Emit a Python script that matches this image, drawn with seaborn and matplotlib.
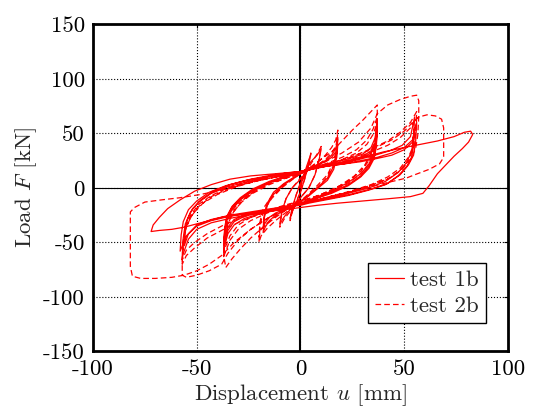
import matplotlib
matplotlib.use("Agg")
import matplotlib.pyplot as plt
import seaborn as sns
import pandas as pd

# ---------------- data ----------------
# test 1b (solid) : successive cycles, (displacement u [mm], load F [kN])
c1_1b = [(0, 0), (1, 8), (3, 20), (5, 31), (4, 22), (2, 8), (0, -4), (-2, -13), (-4, -22), (-5, -28),
         (-4, -18), (-2, -6), (0, 4)]
c2_1b = [(2, 14), (5, 24), (8, 30), (10, 36), (9, 26), (7, 12), (4, 0), (0, -9), (-3, -16), (-6, -22),
         (-8, -27), (-10, -33), (-9, -22), (-7, -10), (-4, 0), (0, 8)]
c3_1b = [(4, 17), (8, 21), (12, 25), (15, 30), (17, 36), (18, 45), (17.5, 32), (16, 20), (13, 9), (8, 0),
         (3, -8), (0, -12), (-4, -17), (-8, -21), (-12, -25), (-15, -30), (-17, -36), (-18, -41),
         (-17.5, -28), (-16, -16), (-13, -6), (-8, 3), (-3, 9), (0, 13)]
c4_1b = [(4, 18), (8, 21), (12, 24), (15, 28), (17, 33), (18, 40), (17.5, 28), (16, 17), (13, 7), (8, -1),
         (3, -9), (0, -13), (-4, -17), (-8, -20), (-12, -23), (-15, -27), (-17, -32), (-18, -37),
         (-17.5, -25), (-16, -14), (-13, -4), (-8, 4), (-3, 10), (0, 14)]
c5_1b = [(4, 18), (10, 21), (17, 24), (24, 27), (30, 31), (34, 37), (36, 46), (37, 62), (36.5, 44),
         (35.5, 32), (33, 22), (29, 13), (23, 5), (15, -3), (7, -9), (0, -14), (-6, -18), (-13, -21),
         (-20, -24), (-27, -28), (-32, -34), (-35, -42), (-37, -57), (-36.5, -42), (-35.5, -30),
         (-33, -20), (-29, -11), (-23, -3), (-15, 5), (-7, 10), (0, 14)]
c6_1b = [(5, 17), (11, 20), (18, 23), (25, 26), (30, 29), (34, 34), (36, 42), (37, 56), (36.5, 40),
         (35.5, 29), (33, 20), (29, 11), (23, 3), (15, -4), (7, -10), (0, -15), (-6, -18), (-13, -20),
         (-20, -23), (-27, -26), (-32, -31), (-35, -39), (-37, -53), (-36.5, -39), (-35.5, -28),
         (-33, -18), (-29, -10), (-23, -2), (-15, 5), (-7, 11), (0, 15)]
c7_1b = [(5, 18), (11, 20), (18, 22), (25, 25), (30, 28), (34, 32), (36, 39), (37, 51), (36.5, 37),
         (35.5, 27), (33, 18), (29, 10), (23, 2), (15, -5), (7, -10), (0, -15), (-6, -17), (-13, -20),
         (-20, -22), (-27, -25), (-32, -29), (-35, -36), (-37, -49), (-36.5, -36), (-35.5, -26),
         (-33, -17), (-29, -9), (-23, -1), (-15, 6), (-7, 11), (0, 15)]
c8_1b = [(5, 17), (12, 20), (20, 23), (28, 26), (36, 30), (43, 34), (49, 39), (53, 47), (55, 65),
         (54.5, 46), (53.5, 33), (51, 23), (47, 14), (41, 6), (33, 0), (23, -5), (12, -10), (4, -13),
         (0, -15), (-6, -18), (-14, -21), (-24, -24), (-34, -28), (-43, -32), (-50, -38), (-54, -47),
         (-57, -63), (-56.5, -46), (-55.5, -33), (-53, -22), (-49, -13), (-43, -5), (-35, 1), (-25, 6),
         (-13, 11), (-5, 13), (0, 15)]
c9_1b = [(6, 18), (13, 20), (21, 22), (29, 25), (37, 28), (44, 32), (50, 37), (54, 44), (56, 60),
         (55.5, 42), (54.5, 30), (52, 21), (48, 12), (42, 4), (34, -1), (24, -6), (13, -10), (4, -13),
         (0, -15), (-6, -17), (-14, -20), (-24, -23), (-34, -26), (-43, -30), (-50, -35), (-55, -44),
         (-58, -58), (-57.5, -43), (-56.5, -31), (-54, -20), (-50, -12), (-44, -4), (-36, 2), (-26, 7),
         (-14, 11), (-5, 13), (0, 15)]
c10_1b = [(6, 18), (13, 20), (21, 22), (29, 24), (37, 27), (44, 30), (50, 35), (54, 42), (55, 55),
          (54.5, 39), (53.5, 28), (51, 19), (47, 11), (41, 3), (33, -2), (23, -7), (12, -11), (4, -14),
          (0, -16), (-6, -17), (-14, -19), (-24, -22), (-34, -25), (-43, -29), (-50, -34), (-54, -42),
          (-56, -53), (-55.5, -40), (-54.5, -29), (-52, -19), (-48, -11), (-42, -3), (-34, 3), (-24, 8),
          (-13, 12), (-5, 14), (0, 15)]
c11_1b = [(8, 18), (18, 22), (30, 28), (40, 33), (50, 37), (58, 40), (66, 43), (74, 47), (79, 51), (82, 52),
          (83, 49), (81, 42), (78, 36), (74, 29), (70, 21), (66, 13), (62, 2), (59, -5), (53, -8),
          (42, -10), (30, -12), (18, -14), (8, -16), (0, -18), (-8, -20), (-18, -22), (-28, -24),
          (-38, -27), (-48, -32), (-56, -36), (-62, -38), (-68, -39), (-72, -40), (-71, -34), (-68, -27),
          (-64, -19), (-58, -11), (-51, -3), (-43, 3), (-34, 8), (-24, 11), (-12, 13), (0, 15)]

# test 2b (dashed)
c1_2b = [(0, 0), (2, 12), (4, 24), (5, 32), (4, 22), (2, 8), (0, -4), (-2, -12), (-4, -22), (-5, -30),
         (-4, -20), (-2, -6), (0, 5)]
c2_2b = [(3, 16), (6, 25), (8, 31), (10, 38), (9, 27), (7, 12), (4, 0), (0, -9), (-3, -17), (-6, -24),
         (-8, -29), (-10, -36), (-9, -24), (-7, -10), (-4, 0), (0, 9)]
c3_2b = [(4, 17), (8, 23), (12, 30), (15, 37), (17, 44), (18, 53), (17.5, 38), (16, 24), (13, 12), (8, 2),
         (3, -7), (0, -12), (-4, -18), (-8, -24), (-12, -30), (-16, -37), (-19, -44), (-20, -50),
         (-19.5, -35), (-18, -22), (-14, -10), (-9, 0), (-3, 9), (0, 13)]
c4_2b = [(4, 17), (8, 21), (12, 26), (15, 32), (17, 38), (18, 47), (17.5, 33), (16, 21), (13, 10), (8, 0),
         (3, -8), (0, -13), (-4, -17), (-8, -21), (-12, -26), (-16, -32), (-19, -38), (-20, -45),
         (-19.5, -31), (-18, -19), (-14, -8), (-9, 1), (-3, 10), (0, 13)]
c5_2b = [(4, 18), (9, 25), (15, 33), (20, 43), (25, 53), (30, 62), (34, 70), (37, 76), (37, 60), (36, 45),
         (34, 32), (31, 21), (26, 11), (19, 2), (10, -6), (0, -13), (-6, -19), (-12, -27), (-18, -36),
         (-24, -46), (-29, -56), (-33, -65), (-36, -73), (-37, -62), (-36.5, -46), (-35, -33),
         (-32, -21), (-27, -10), (-20, 0), (-10, 8), (0, 14)]
c6_2b = [(5, 17), (12, 22), (20, 28), (27, 35), (32, 44), (35, 54), (37, 65), (36.5, 49), (35.5, 36),
         (33, 25), (29, 15), (23, 6), (15, -2), (7, -8), (0, -12), (-8, -17), (-16, -23), (-24, -30),
         (-30, -38), (-34, -48), (-37, -63), (-36.5, -48), (-35.5, -35), (-33, -24), (-29, -14),
         (-23, -5), (-15, 3), (-7, 9), (0, 13)]
c7_2b = [(5, 17), (12, 21), (20, 26), (27, 32), (32, 40), (35, 49), (37, 60), (36.5, 45), (35.5, 33),
         (33, 22), (29, 13), (23, 4), (15, -3), (7, -9), (0, -12), (-8, -16), (-16, -21), (-24, -27),
         (-30, -34), (-34, -44), (-37, -58), (-36.5, -44), (-35.5, -32), (-33, -21), (-29, -12),
         (-23, -4), (-15, 4), (-7, 9), (0, 13)]
c8_2b = [(5, 18), (12, 24), (20, 32), (28, 42), (34, 55), (37, 68), (42, 76), (48, 81), (53, 84), (56, 85),
         (57, 80), (57, 65), (56.5, 48), (55.5, 36), (53, 26), (49, 17), (43, 9), (35, 3), (25, -3),
         (13, -9), (0, -14), (-8, -20), (-16, -28), (-24, -38), (-30, -48), (-35, -60), (-38, -70),
         (-44, -76), (-50, -80), (-55, -82), (-57, -80), (-57, -65), (-56.5, -48), (-55, -35),
         (-52, -24), (-47, -14), (-40, -6), (-31, 1), (-20, 7), (-9, 11), (0, 14)]
c9_2b = [(6, 18), (14, 22), (24, 28), (33, 35), (42, 43), (48, 51), (53, 60), (56, 70), (55.5, 53),
         (54.5, 39), (52, 28), (48, 18), (42, 10), (34, 3), (24, -3), (12, -9), (0, -14), (-8, -18),
         (-18, -23), (-28, -30), (-37, -38), (-45, -46), (-51, -55), (-55, -62), (-57, -70),
         (-56.5, -53), (-55.5, -39), (-53, -27), (-49, -17), (-43, -8), (-35, -1), (-25, 5), (-12, 10),
         (0, 14)]
c10_2b = [(6, 18), (14, 21), (24, 26), (33, 32), (42, 39), (48, 46), (53, 55), (56, 65), (55.5, 49),
          (54.5, 36), (52, 25), (48, 16), (42, 8), (34, 2), (24, -4), (12, -10), (0, -14), (-8, -17),
          (-18, -21), (-28, -27), (-37, -34), (-45, -42), (-51, -50), (-55, -57), (-57, -66),
          (-56.5, -50), (-55.5, -37), (-53, -25), (-49, -15), (-43, -7), (-35, 0), (-25, 6), (-12, 10),
          (0, 14)]
c11_2b = [(6, 18), (14, 22), (24, 28), (34, 35), (44, 44), (50, 52), (54, 60), (57, 65), (61, 67), (65, 66),
          (68, 63), (69, 55), (69, 40), (69, 28), (67, 22), (62, 17), (55, 12), (51, 9), (40, 4), (28, -2),
          (16, -7), (6, -12), (0, -15), (-8, -20), (-16, -28), (-24, -38), (-32, -50), (-38, -62),
          (-44, -70), (-50, -76), (-56, -80), (-62, -82), (-70, -83), (-77, -83), (-81, -81), (-82, -72),
          (-82, -55), (-82, -35), (-82, -22), (-80, -18), (-75, -13), (-67, -11), (-58, -9), (-48, -6),
          (-36, -1), (-24, 5), (-12, 10), (0, 14)]

cycles_1b = [c1_1b, c2_1b, c3_1b, c4_1b, c5_1b, c6_1b, c7_1b, c8_1b, c9_1b, c10_1b, c11_1b]
cycles_2b = [c1_2b, c2_2b, c3_2b, c4_2b, c5_2b, c6_2b, c7_2b, c8_2b, c9_2b, c10_2b, c11_2b]

x_ticks = [-100, -50, 0, 50, 100]
y_ticks = [-150, -100, -50, 0, 50, 100, 150]
labels = ["test 1b", "test 2b"]

# ---------------- build tables ----------------
def to_frame(cycles, name):
    pts = [p for c in cycles for p in c]
    return pd.DataFrame({"u": [p[0] for p in pts], "F": [p[1] for p in pts], "test": name})

df1 = to_frame(cycles_1b, labels[0])
df2 = to_frame(cycles_2b, labels[1])

# ---------------- style ----------------
sns.set_style("white")
plt.rcParams["font.family"] = ["cmr10"]
plt.rcParams["mathtext.fontset"] = "cm"
plt.rcParams["axes.unicode_minus"] = False
plt.rcParams["axes.formatter.use_mathtext"] = True
plt.rcParams["lines.dashed_pattern"] = (4.5, 2.5)

fig = plt.figure(figsize=(5.4, 4.09), dpi=100)
ax = fig.add_axes([0.1722, 0.1406, 0.9407 - 0.1722, 0.9406 - 0.1406])

sns.lineplot(data=df1, x="u", y="F", sort=False, estimator=None, color="#ff0000",
             lw=0.9, ax=ax, label=labels[0])
sns.lineplot(data=df2, x="u", y="F", sort=False, estimator=None, color="#ff0000",
             lw=0.9, linestyle="--", ax=ax, label=labels[1])

ax.set_xlim(-100, 100)
ax.set_ylim(-150, 150)
ax.set_xticks(x_ticks)
ax.set_yticks(y_ticks)
ax.set_xticklabels([str(v) for v in x_ticks])
ax.set_yticklabels([str(v) for v in y_ticks])
ax.tick_params(direction="in", length=3, width=0.8, labelsize=16.5, pad=6,
               top=True, right=True, colors="black")
ax.grid(True, linestyle=":", color="black", lw=0.8)
ax.axhline(0, color="black", lw=0.8, zorder=1)
ax.axvline(0, color="black", lw=1.5, zorder=1)
for s in ax.spines.values():
    s.set_linewidth(2.0)
    s.set_color("black")

ax.set_xlabel(r"Displacement $u$ [mm]", fontsize=16.5, labelpad=2)
ax.set_ylabel(r"Load $F$ [kN]", fontsize=16.5, labelpad=3)

leg = ax.legend(loc="lower right", bbox_to_anchor=(0.947, 0.087), borderaxespad=0,
                fontsize=16.5, frameon=True, fancybox=False, edgecolor="black",
                handlelength=1.25, handletextpad=0.3, borderpad=0.3, labelspacing=0.25)
leg.get_frame().set_linewidth(1.0)
leg.get_frame().set_alpha(1)

fig.savefig("out.png", dpi=100)
